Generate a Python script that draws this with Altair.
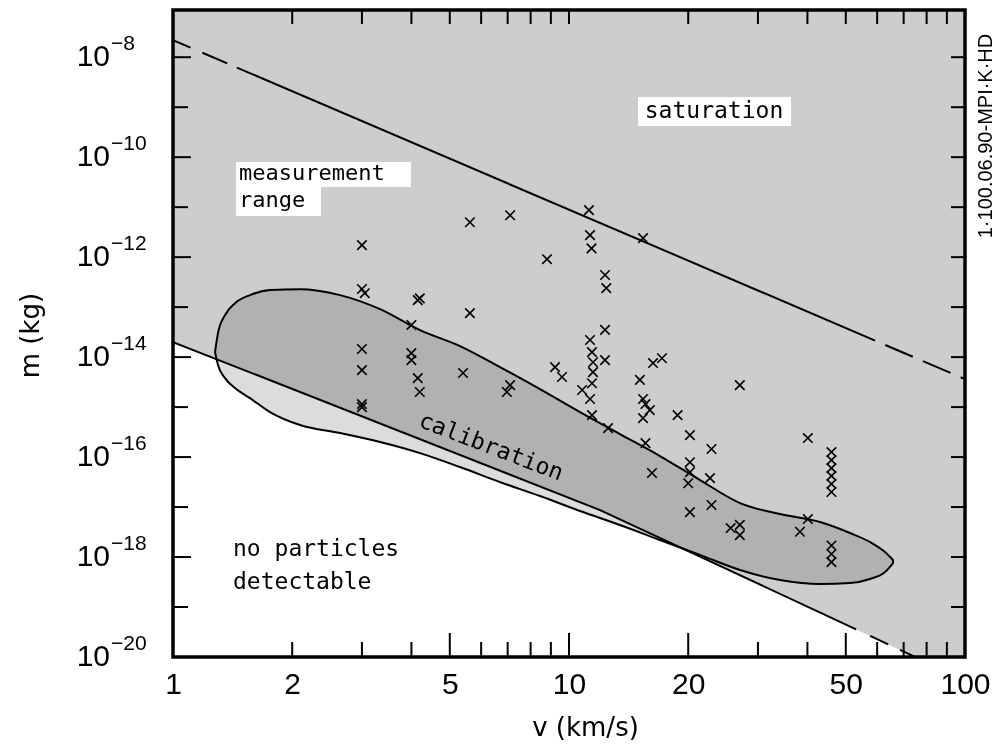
import altair as alt
import pandas as pd

# ---------------- data ----------------
# detection threshold line (solid part, then dashed tail)
det_v = [1.0, 11.98, 53.1]
det_m = [2.0e-14, 8.7e-18, 3.57e-20]
det_dash_v = [57.6, 74.8]
det_dash_m = [2.65e-20, 1.0e-20]
# boundary of the hatched "measurement range" region
hatch_v = [1.0, 11.98, 74.8, 100.0]
hatch_m = [2.0e-14, 8.7e-18, 1.0e-20, 1.0e-20]

# saturation line: short dashes at left, solid, dashes at right
sat_left_v = [1.0, 1.43]
sat_left_m = [2.19e-8, 6.51e-9]
sat_v = [1.45, 59.3]
sat_m = [6.2e-9, 2.14e-14]
sat_right_v = [62.9, 100.0]
sat_right_m = [1.75e-14, 3.63e-15]

# calibration region outline (upper and lower boundary)
cal_v = [1.277, 1.299, 1.353, 1.434, 1.565, 1.758, 2.093, 2.641, 3.333, 4.205,
         5.306, 6.695, 8.448, 10.66, 13.45, 16.97, 21.42, 27.03, 34.11, 43.04,
         51.24, 57.56, 62.8, 65.8]
cal_upper = [1.26e-14, 3.02e-14, 6.92e-14, 1.20e-13, 1.74e-13, 2.19e-13, 2.29e-13,
             1.74e-13, 9.12e-14, 3.47e-14, 1.66e-14, 6.31e-15, 2.29e-15, 7.94e-16,
             2.88e-16, 1.05e-16, 3.47e-17, 1.20e-17, 7.24e-18, 5.01e-18, 3.02e-18,
             2.0e-18, 1.26e-18, 8.71e-19]
cal_lower = [1.26e-14, 6.92e-15, 3.80e-15, 2.40e-15, 1.51e-15, 7.94e-16, 4.37e-16,
             3.02e-16, 2.0e-16, 1.20e-16, 6.31e-17, 3.16e-17, 1.66e-17, 8.32e-18,
             4.37e-18, 2.19e-18, 1.10e-18, 5.50e-19, 3.47e-19, 2.88e-19, 3.02e-19,
             3.63e-19, 5.01e-19, 7.59e-19]

# measured particles (x marks)
pts_v = [3.0, 3.0, 3.05, 3.0, 3.0, 3.0, 3.0, 4.15, 4.2, 4.0, 4.0, 4.0, 4.15, 4.2,
         5.62, 5.62, 5.4, 7.1, 7.1, 6.97, 8.8, 9.22, 9.6, 11.23, 11.3, 11.4,
         12.33, 12.42, 12.33, 11.3, 11.43, 11.5, 12.33, 11.5, 11.43, 10.79, 11.3,
         11.43, 12.55, 15.38, 15.1, 16.3, 17.17, 15.38, 15.6, 16.0, 15.38, 18.8,
         20.2, 22.9, 15.6, 16.2, 20.2, 20.2, 20.0, 22.7, 20.2, 22.9, 25.6, 27.0,
         27.0, 27.0, 40.1, 46.0, 46.0, 46.0, 46.0, 46.0, 46.0, 40.1, 38.3, 46.0,
         46.0, 46.0]
pts_m = [1.74e-12, 2.3e-13, 1.9e-13, 1.45e-14, 5.5e-15, 1.15e-15, 1.0e-15, 1.38e-13,
         1.5e-13, 4.4e-14, 1.2e-14, 8.7e-15, 3.8e-15, 2.0e-15, 5.0e-12, 7.6e-14,
         4.8e-15, 6.9e-12, 2.75e-15, 2.0e-15, 9.1e-13, 6.3e-15, 4.0e-15, 8.7e-12,
         2.75e-12, 1.5e-12, 4.4e-13, 2.4e-13, 3.5e-14, 2.2e-14, 1.26e-14, 7.9e-15,
         8.7e-15, 5.0e-15, 3.0e-15, 2.2e-15, 1.45e-15, 6.9e-16, 3.8e-16, 2.4e-12,
         3.5e-15, 7.6e-15, 9.5e-15, 1.45e-15, 1.15e-15, 8.7e-16, 6.0e-16, 6.9e-16,
         2.75e-16, 1.45e-16, 1.9e-16, 4.8e-17, 7.9e-17, 5.0e-17, 3.0e-17, 3.8e-17,
         7.9e-18, 1.1e-17, 3.8e-18, 4.4e-18, 2.75e-18, 2.75e-15, 2.4e-16, 1.26e-16,
         8.7e-17, 6.0e-17, 4.2e-17, 2.9e-17, 2.0e-17, 5.75e-18, 3.2e-18, 1.7e-18,
         1.15e-18, 7.9e-19]

# axis ticks / labels
x_labels = [1, 2, 5, 10, 20, 50, 100]
x_major = [5, 10, 20, 50]
x_minor = [2, 3, 4, 6, 7, 8, 9, 30, 40, 60, 70, 80, 90]
x_top = [2, 3, 4, 5, 6, 7, 8, 9, 10, 20, 30, 40, 50, 60, 70, 80, 90]
y_lab_m = [1e-8, 1e-10, 1e-12, 1e-14, 1e-16, 1e-18, 1e-20]
y_lab_exp = ["\u22128", "\u221210", "\u221212", "\u221214", "\u221216", "\u221218", "\u221220"]
y_minor = [1e-9, 1e-11, 1e-13, 1e-15, 1e-17, 1e-19]
y_all = [1e-8, 1e-9, 1e-10, 1e-11, 1e-12, 1e-13, 1e-14, 1e-15, 1e-16, 1e-17, 1e-18, 1e-19]

# ---------------- layout / style ----------------
W, H = 792, 647
NUM_FONT = "Liberation Sans"
ANN_FONT = "DejaVu Sans Mono"

xs = alt.Scale(type="log", domain=[1, 100])
ys = alt.Scale(type="log", domain=[1e-20, 8.8e-8])

X = alt.X("v:Q", scale=xs,
          axis=alt.Axis(values=x_labels, format="d", grid=False, ticks=False, domain=False,
                        labelFont=NUM_FONT, labelFontSize=30, labelColor="black",
                        labelPadding=12, labelFlush=False, labelOverlap=False,
                        title="v (km/s)", titleFont="DejaVu Sans", titleFontSize=26,
                        titleFontWeight="normal", titleColor="black",
                        titleX=412, titleY=70, titleBaseline="middle"))
Y = alt.Y("m:Q", scale=ys, stack=None,
          axis=alt.Axis(labels=False, ticks=False, domain=False, grid=False,
                        title="m (kg)", titleFont="DejaVu Sans", titleFontSize=26,
                        titleFontWeight="normal", titleColor="black",
                        titleX=-143, titleY=325, titleAngle=270,
                        titleBaseline="middle", titleAlign="center"))
Xp = alt.X("v:Q", scale=xs)
Yp = alt.Y("m:Q", scale=ys, stack=None)

def df(v, m):
    return pd.DataFrame({"v": v, "m": m})

hatch = alt.Chart(df(hatch_v, hatch_m)).mark_area(color="#cdcdcd", clip=True, opacity=1).encode(
    x=X, y=Y, y2=alt.value(0))

cal = alt.Chart(pd.DataFrame({"v": cal_v, "m": cal_upper, "m2": cal_lower})).mark_area(
    interpolate="monotone", fill="#dcdcdc", stroke="black", strokeWidth=2, opacity=1,
    blend="multiply").encode(x=Xp, y=Yp, y2="m2:Q")

box_sat = alt.Chart(alt.Data(values=[{}])).mark_rect(color="white").encode(
    x=alt.value(465), x2=alt.value(618), y=alt.value(87), y2=alt.value(116))
box_meas1 = alt.Chart(alt.Data(values=[{}])).mark_rect(color="white").encode(
    x=alt.value(63), x2=alt.value(238), y=alt.value(152), y2=alt.value(177))
box_meas2 = alt.Chart(alt.Data(values=[{}])).mark_rect(color="white").encode(
    x=alt.value(63), x2=alt.value(148), y=alt.value(177), y2=alt.value(206))

line_kw = dict(color="black", strokeWidth=2, clip=True)
det = alt.Chart(df(det_v, det_m)).mark_line(**line_kw).encode(x=Xp, y=Yp)
det_d = alt.Chart(df(det_dash_v, det_dash_m)).mark_line(strokeDash=[20, 13], **line_kw).encode(x=Xp, y=Yp)
sat_l = alt.Chart(df(sat_left_v, sat_left_m)).mark_line(strokeDash=[19, 13, 27, 60], **line_kw).encode(x=Xp, y=Yp)
sat = alt.Chart(df(sat_v, sat_m)).mark_line(**line_kw).encode(x=Xp, y=Yp)
sat_r = alt.Chart(df(sat_right_v, sat_right_m)).mark_line(strokeDash=[30, 11], **line_kw).encode(x=Xp, y=Yp)

pts = alt.Chart(df(pts_v, pts_m)).mark_point(
    shape="M-1,-1L1,1M-1,1L1,-1", size=90, filled=False, color="black",
    strokeWidth=1.6, opacity=1).encode(x=Xp, y=Yp)

# inward ticks
def xticks(vals, y0, y1):
    return alt.Chart(pd.DataFrame({"v": vals})).mark_rule(color="black", strokeWidth=2).encode(
        x=Xp, y=alt.value(y0), y2=alt.value(y1))

def yticks(vals, x0, x1):
    return alt.Chart(pd.DataFrame({"m": vals})).mark_rule(color="black", strokeWidth=2).encode(
        y=Yp, x=alt.value(x0), x2=alt.value(x1))

ticks = [xticks(x_major, H, H - 24), xticks(x_minor, H, H - 15), xticks(x_top, 0, 14),
         yticks(y_lab_m[:-1], 0, 18), yticks(y_minor, 0, 15), yticks(y_all, W, W - 14)]

frame = alt.Chart(alt.Data(values=[{}])).mark_rect(
    fill=None, fillOpacity=0, stroke="black", strokeWidth=3.5).encode(
    x=alt.value(0), x2=alt.value(W), y=alt.value(0), y2=alt.value(H))

ylab = pd.DataFrame({"m": y_lab_m, "e": y_lab_exp})
ylab10 = alt.Chart(ylab).mark_text(text="10", font=NUM_FONT, fontSize=30, align="right",
                                   baseline="middle", color="black").encode(
    y=Yp, x=alt.value(-63))
ylabexp = alt.Chart(ylab).mark_text(font=NUM_FONT, fontSize=21, align="left",
                                    baseline="middle", dy=-13, color="black").encode(
    y=Yp, x=alt.value(-62), text="e:N")

def label(txt, x, y, size=23, angle=0, align="left", font=ANN_FONT):
    return alt.Chart(alt.Data(values=[{}])).mark_text(
        text=txt, font=font, fontSize=size, angle=angle, align=align,
        baseline="middle", color="black").encode(x=alt.value(x), y=alt.value(y))

texts = [
    label("saturation", 541, 101, align="center"),
    label("measurement", 66, 163, size=22),
    label("range", 66, 190, size=22),
    label("no particles", 60, 539),
    label("detectable", 60, 572),
    label("calibration", 318, 437, angle=21, align="center"),
    label("1\u00b7100.06.90-MPI\u00b7K\u00b7HD", 813, 126, size=20, angle=270,
          align="center", font="Liberation Sans"),
]

chart = alt.layer(hatch, cal, box_sat, box_meas1, box_meas2, det, det_d, sat_l, sat, sat_r,
                  pts, *ticks, frame, ylab10, ylabexp, *texts).properties(
    width=W, height=H,
    autosize=alt.AutoSizeParams(type="none"),
    padding={"left": 173, "top": 10, "right": 33, "bottom": 87},
    background="white",
).configure_view(stroke=None)

chart.save("out.html", embed_options={"renderer": "svg", "actions": False})
